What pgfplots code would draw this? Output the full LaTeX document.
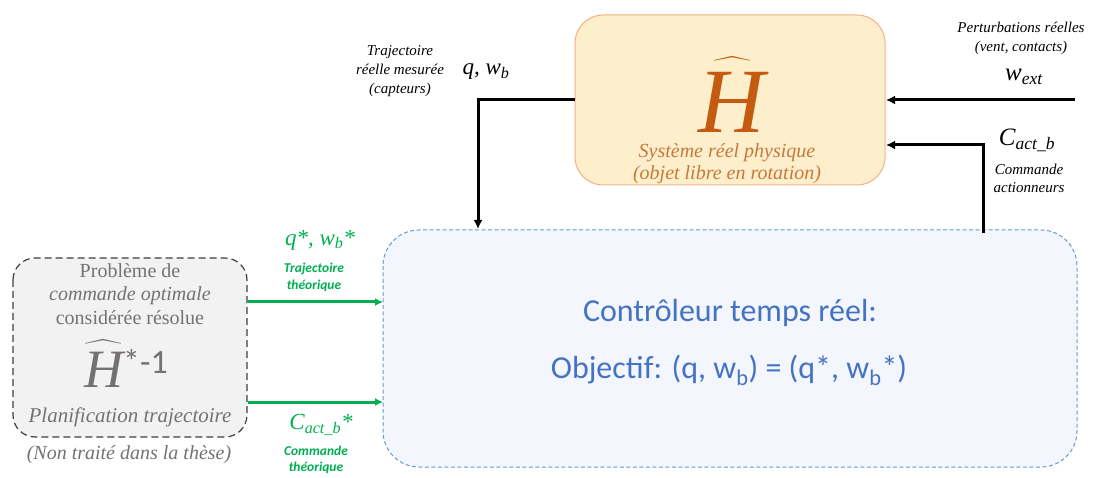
\documentclass[border=0pt]{standalone}
\usepackage{exscale}
\usepackage{pgfplots}
\pgfplotsset{compat=1.18}
\usetikzlibrary{arrows.meta}
\usepackage{fontspec}
\setmainfont{Liberation Serif}
\newfontfamily\carlito{Carlito}
\definecolor{orgfill}{HTML}{FDEFCB}
\definecolor{orgdraw}{HTML}{F4B183}
\definecolor{orgH}{HTML}{C55A11}
\definecolor{orgtxt}{HTML}{C8783C}
\definecolor{bluefill}{HTML}{F3F7FD}
\definecolor{bluedraw}{HTML}{6A9AC9}
\definecolor{bluetxt}{HTML}{4472C4}
\definecolor{grayfill}{HTML}{F2F2F2}
\definecolor{graydraw}{HTML}{3F3F3F}
\definecolor{graytxt}{HTML}{767171}
\definecolor{mygreen}{HTML}{00B050}
\begin{document}
\begin{tikzpicture}
\begin{axis}[scale only axis, width=1098pt, height=478pt,
  xmin=0, xmax=1098, ymin=0, ymax=478, y dir=reverse,
  hide axis, clip=false]
\path (axis cs:0,0) rectangle (axis cs:1098,478);
% boxes
\draw[orgdraw, fill=orgfill, line width=1pt, rounded corners=28pt]
  (axis cs:575,15) rectangle (axis cs:885,185);
\draw[bluedraw, fill=bluefill, line width=1pt, dash pattern=on 4pt off 2.5pt, rounded corners=36pt]
  (axis cs:383,230) rectangle (axis cs:1077,467);
\draw[graydraw, fill=grayfill, line width=1.2pt, dash pattern=on 7pt off 4pt, rounded corners=22pt]
  (axis cs:13,258) rectangle (axis cs:247,437);
% black arrows
\addplot[black, line width=3pt, -{Latex[length=9pt,width=9pt]}] coordinates {(575,100) (478,100) (478,229)};
\addplot[black, line width=3pt, -{Latex[length=9pt,width=9pt]}] coordinates {(1075,100) (886,100)};
\addplot[black, line width=3pt, -{Latex[length=9pt,width=9pt]}] coordinates {(983,233) (983,145) (886,145)};
% green arrows
\addplot[mygreen, line width=3pt, -{Latex[length=8pt,width=8pt]}] coordinates {(248,302) (383,302)};
\addplot[mygreen, line width=3pt, -{Latex[length=8pt,width=8pt]}] coordinates {(248,402) (383,402)};
% orange box text
\node[orgH, inner sep=0, anchor=base, font={\fontsize{92}{92}\selectfont}] at (axis cs:732,133) {$\widehat{\mathit{H}\rule{0pt}{0.74em}}$};
\node[orgtxt, inner sep=0, align=center, font={\fontsize{20}{22}\selectfont\itshape}] at (axis cs:727,164) {Système réel physique\\(objet libre en rotation)};
% blue box text
\node[bluetxt, inner sep=0, font={\carlito\fontsize{32}{36}\selectfont}] at (axis cs:730,313) {Contrôleur temps réel:};
\node[bluetxt, inner sep=0, font={\carlito\fontsize{32}{36}\selectfont}] at (axis cs:729,370) {Objectif: (q, w\textsubscript{b}) = (q*, w\textsubscript{b}*)};
% gray box text
\node[graytxt, inner sep=0, align=center, font={\fontsize{20}{23.5}\selectfont}] at (axis cs:130,294) {Problème de\\\textit{commande optimale}\\considérée résolue};
\node[graytxt, inner sep=0, anchor=base west, font={\fontsize{54}{54}\selectfont}] at (axis cs:84,388) {$\widehat{\mathit{H}\rule{0pt}{0.74em}}$\raisebox{14pt}{\carlito\fontsize{34}{34}\selectfont *-1}};
\node[graytxt, inner sep=0, font={\fontsize{21}{24}\selectfont\itshape}] at (axis cs:130,417) {Planification trajectoire};
\node[graytxt, inner sep=0, font={\fontsize{20}{24}\selectfont\itshape}] at (axis cs:129,455) {(Non traité dans la thèse)};
% green labels
\node[mygreen, inner sep=0, font={\fontsize{23}{26}\selectfont\itshape}] at (axis cs:320,240) {q*, w\textsubscript{b}*};
\node[mygreen, inner sep=0, align=center, font={\carlito\bfseries\itshape\fontsize{13.5}{17}\selectfont}] at (axis cs:314,277) {Trajectoire\\théorique};
\node[mygreen, inner sep=0, font={\fontsize{23}{26}\selectfont\itshape}] at (axis cs:321,425) {C\textsubscript{act\_b}*};
\node[mygreen, inner sep=0, align=center, font={\carlito\bfseries\itshape\fontsize{13.5}{16}\selectfont}] at (axis cs:316,460) {Commande\\théorique};
% black labels
\node[black, inner sep=0, align=center, font={\fontsize{15}{19}\selectfont\itshape}] at (axis cs:400,71) {Trajectoire\\réelle mesurée\\(capteurs)};
\node[black, inner sep=0, font={\fontsize{23}{26}\selectfont\itshape}] at (axis cs:486,72) {q, w\textsubscript{b}};
\node[black, inner sep=0, align=center, font={\fontsize{15}{19}\selectfont\itshape}] at (axis cs:1021,38) {Perturbations réelles\\(vent, contacts)};
\node[black, inner sep=0, font={\fontsize{25}{28}\selectfont\itshape}] at (axis cs:1024,77) {w\textsubscript{ext}};
\node[black, inner sep=0, font={\fontsize{25}{28}\selectfont\itshape}] at (axis cs:1027,140) {C\textsubscript{act\_b}};
\node[black, inner sep=0, align=center, font={\fontsize{15}{18}\selectfont\itshape}] at (axis cs:1029,178) {Commande\\actionneurs};
\end{axis}
\end{tikzpicture}
\end{document}
